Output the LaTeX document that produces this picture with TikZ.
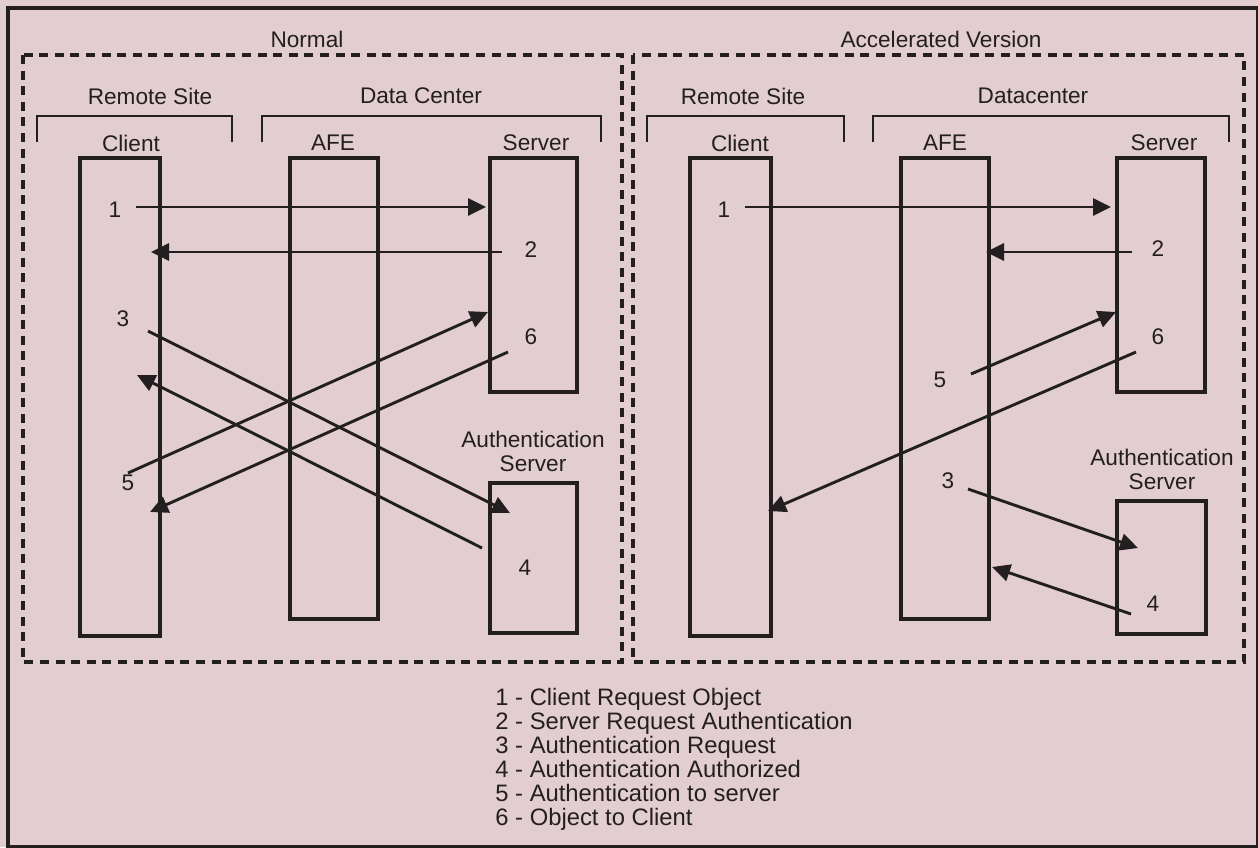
\documentclass[tikz,border=0pt]{standalone}
\usepackage{fontspec}
\setmainfont{Liberation Sans}
\usepackage{tikz}
\usetikzlibrary{arrows.meta,fit,positioning}
\definecolor{paper}{RGB}{226,205,208}
\definecolor{ink}{RGB}{35,31,32}

\begin{document}
\begin{tikzpicture}[x=0.5pt, y=-0.5pt, >={Triangle[length=9pt,width=8.5pt]},
  font=\fontsize{11.3}{12}\selectfont, every node/.style={text=ink}]
  \tikzstyle{unit}=[draw=ink, line width=1.65pt, inner sep=0pt]
  \tikzstyle{zone}=[draw=ink, line width=1.6pt, dash pattern=on 4.5pt off 3.3pt]
  \tikzstyle{bracket}=[draw=ink, line width=1.2pt]
  \tikzstyle{msg}=[->, draw=ink, line width=1.45pt]
  \tikzstyle{num}=[inner sep=0pt]

  % page and frame
  \fill[paper] (0,0) rectangle (1258,847);
  \useasboundingbox (0,0) rectangle (1258,847);
  \draw[ink, line width=1.6pt] (8,8) rectangle (1258,847);

  % ---------------- Normal ----------------
  \begin{scope}
    \draw[zone] (23,55) rectangle (622,662);
    \node (titleN) at (307,39) {Normal};
    \node (remoteN) at (150,96) {Remote Site}; \node (dcN) at (421,96) {Data Center};
    \draw[bracket] (37,142) -- (37,116) -- (232,116) -- (232,142);
    \draw[bracket] (262,142) -- (262,116) -- (601,116) -- (601,142);

    \node[unit, fit={(80,158) (160,636)}] (clientN) {};
    \node[unit, fit={(290,158) (378,619)}] (afeN) {};
    \node[unit, fit={(490,158) (577,392)}] (serverN) {};
    \node[unit, fit={(490,483) (577,633)}] (authN) {};
    \node (clientNl) at (131,143) {Client}; \node (afeNl) at (333,143) {AFE};
    \node (serverNl) at (536,143) {Server};
    \node[align=center] (authNl) at (533,451) {Authentication\\Server};

    \node[num] (n1N) at (115,210) {1}; \node[num] (n2N) at (531,250) {2};
    \node[num] (n3N) at (123,319) {3}; \node[num] (n4N) at (525,568) {4};
    \node[num] (n5N) at (128,483) {5}; \node[num] (n6N) at (531,337) {6};

    \coordinate (s1N) at (136,207); \coordinate (t1N) at (486,207);
    \coordinate (s2N) at (502,252); \coordinate (t2N) at (151,252);
    \coordinate (s3N) at (148,331); \coordinate (t3N) at (510,513);
    \coordinate (s4N) at (482,548); \coordinate (t4N) at (137,375);
    \coordinate (s5N) at (128,473); \coordinate (t5N) at (488,312);
    \coordinate (s6N) at (508,352); \coordinate (t6N) at (150,512);
    \draw[msg] (s1N) -- (t1N); \draw[msg] (s2N) -- (t2N);
    \draw[msg] (s3N) -- (t3N); \draw[msg] (s4N) -- (t4N);
    \draw[msg] (s5N) -- (t5N); \draw[msg] (s6N) -- (t6N);
  \end{scope}

  % ---------------- Accelerated ----------------
  \begin{scope}
    \draw[zone] (633,55) rectangle (1244,662);
    \node (titleA) at (941,39) {Accelerated Version};
    \node (remoteA) at (743,96) {Remote Site}; \node (dcA) at (1033,96) {Datacenter};
    \draw[bracket] (647,142) -- (647,116) -- (844,116) -- (844,142);
    \draw[bracket] (873,142) -- (873,116) -- (1229,116) -- (1229,142);

    \node[unit, fit={(690,158) (771,636)}] (clientA) {};
    \node[unit, fit={(901,158) (989,619)}] (afeA) {};
    \node[unit, fit={(1117,158) (1205,392)}] (serverA) {};
    \node[unit, fit={(1117,501) (1206,634)}] (authA) {};
    \node (clientAl) at (740,143) {Client}; \node (afeAl) at (945,143) {AFE};
    \node (serverAl) at (1164,143) {Server};
    \node[align=center] (authAl) at (1162,469) {Authentication\\Server};

    \node[num] (n1A) at (724,210) {1}; \node[num] (n2A) at (1158,249) {2};
    \node[num] (n3A) at (948,481) {3}; \node[num] (n4A) at (1153,604) {4};
    \node[num] (n5A) at (940,380) {5}; \node[num] (n6A) at (1158,337) {6};

    \coordinate (s1A) at (745,207); \coordinate (t1A) at (1111,207);
    \coordinate (s2A) at (1132,252); \coordinate (t2A) at (986,252);
    \coordinate (s3A) at (968,489); \coordinate (t3A) at (1138,548);
    \coordinate (s4A) at (1131,614); \coordinate (t4A) at (992,567);
    \coordinate (s5A) at (971,374); \coordinate (t5A) at (1116,312);
    \coordinate (s6A) at (1136,352); \coordinate (t6A) at (768,511);
    \draw[msg] (s1A) -- (t1A); \draw[msg] (s2A) -- (t2A);
    \draw[msg] (s3A) -- (t3A); \draw[msg] (s4A) -- (t4A);
    \draw[msg] (s5A) -- (t5A); \draw[msg] (s6A) -- (t6A);
  \end{scope}

  % legend
  \node[anchor=north west, inner sep=0pt, align=left,
    font=\fontsize{11.9}{12}\selectfont] (legend) at (495,688)
    {1 - Client Request Object\\2 - Server Request Authentication\\
     3 - Authentication Request\\4 - Authentication Authorized\\
     5 - Authentication to server\\6 - Object to Client};
\end{tikzpicture}
\end{document}
